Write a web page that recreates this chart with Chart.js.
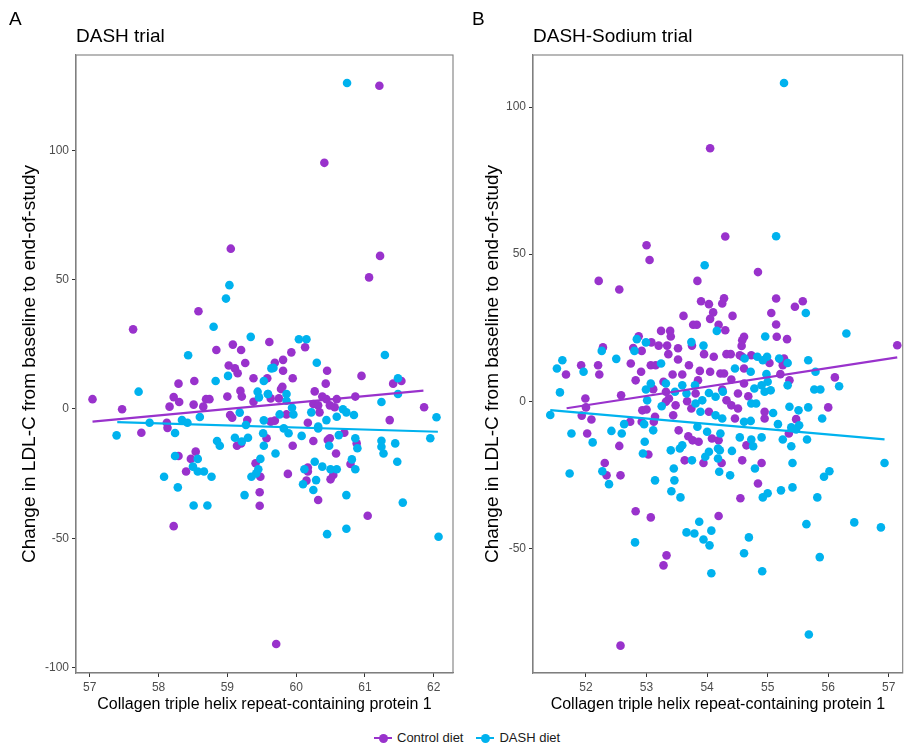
<!DOCTYPE html>
<html>
<head>
<meta charset="utf-8">
<title>LDL-C change vs CTHRC1</title>
<script src="https://cdn.jsdelivr.net/npm/chart.js@4.4.1/dist/chart.umd.min.js"></script>
<style>
  body { margin: 0; background: #fff; font-family: "Liberation Sans", Arial, Helvetica, sans-serif; }
  #page { position: relative; width: 907px; height: 745px; overflow: hidden; }
  canvas { position: absolute; top: 0; }
  #chartA { left: 0; }
  #chartB { left: 462px; }
  .tag { position: absolute; top: 8px; font-size: 19px; color: #000; line-height: 22px; }
  #legend { position: absolute; top: 730px; left: 373px; font-size: 13px; color: #1a1a1a; display: flex; align-items: center; line-height: 16px; }
  .key { position: relative; display: inline-block; width: 20px; height: 14px; margin-right: 4px; }
  .key::before { content: ""; position: absolute; left: 1px; right: 1px; top: 6px; height: 2px; background: var(--c); }
  .key::after { content: ""; position: absolute; left: 5.5px; top: 2.5px; width: 9px; height: 9px; border-radius: 50%; background: var(--c); }
  .item { display: flex; align-items: center; margin-right: 12px; }
</style>
</head>
<body>
<div id="page">
  <canvas id="chartA" width="462" height="720"></canvas>
  <canvas id="chartB" width="445" height="720"></canvas>
  <div class="tag" style="left:9px">A</div>
  <div class="tag" style="left:472px">B</div>
  <div id="legend">
    <span class="item"><span class="key" style="--c:#9932CC"></span>Control diet</span>
    <span class="item"><span class="key" style="--c:#00B2EE"></span>DASH diet</span>
  </div>
</div>

<script>
// ---- data ----
const seriesNames = ["Control diet", "DASH diet"];
const xTitle = "Collagen triple helix repeat-containing protein 1";
const yTitle = "Change in LDL-C from baseline to end-of-study";

// Panel A: DASH trial
const titleA = "DASH trial";
const xTicksA = [57, 58, 59, 60, 61, 62];
const yTicksA = [-100, -50, 0, 50, 100];
const controlA = [
  [57.04,3.8],[57.47,-0.1],[57.63,30.8],[58.58,37.8],[58.84,22.8],[59.08,24.9],[59.20,22.8],[59.61,25.9],
  [59.02,16.8],[59.11,15.7],[59.15,13.8],[59.26,17.8],[59.38,11.9],[58.52,10.8],[58.29,9.8],[58.22,4.6],
  [58.30,2.7],[58.16,0.9],[58.51,1.7],[58.65,0.9],[58.69,3.8],[58.74,3.8],[59.00,4.8],[59.19,7],
  [59.21,4.8],[59.38,2.8],[59.04,-2.3],[59.07,-3.4],[59.29,-4.3],[58.12,-5.3],[58.13,-7.3],[57.75,-9.2],
  [59.63,-4.9],[58.29,-18.2],[58.54,-16.5],[58.47,-19.3],[58.40,-24.2],[58.22,-45.3],[59.14,-14.2],[59.20,-13.3],
  [59.57,-11.3],[59.41,-21],[59.48,-26.2],[59.47,-32.2],[59.47,-37.4],[61.06,50.9],[59.05,62],[61.22,59.2],
  [60.41,95.2],[61.21,125],[59.71,-90.9],[59.93,21.9],[60.13,23.9],[59.69,17.9],[59.81,19],[59.81,14.8],
  [60.45,14.8],[59.95,11.9],[59.58,11.9],[60.43,9.8],[59.80,8.6],[59.78,7.7],[60.95,12.8],[61.41,9.8],
  [61.53,10.8],[60.27,6.8],[60.38,4.8],[60.44,3.8],[60.59,3.8],[60.86,4.8],[60.25,1.9],[60.32,1.4],
  [60.49,1.4],[60.56,0.7],[60.34,-1.3],[60.17,-5.3],[59.86,-2.1],[59.69,-4.5],[59.63,4.1],[59.75,4.1],
  [61.86,0.7],[61.36,-4.3],[60.25,-12.4],[59.95,-14.2],[60.46,-12],[60.49,-11.3],[60.58,-17.2],[60.70,-9.2],
  [60.88,-13.3],[60.79,-21.3],[60.17,-22.6],[60.17,-24.2],[60.15,-27.7],[59.88,-25.1],[60.50,-27.2],[60.54,-25.5],
  [60.32,-35.2],[61.04,-41.3]
];
const dashA = [
  [59.03,47.9],[58.98,42.7],[58.80,31.8],[59.34,27.9],[58.43,20.8],[57.71,6.7],[58.83,10.8],[59.01,12.8],
  [59.53,10.8],[59.44,6.7],[59.46,4.5],[59.59,5.8],[59.64,15.7],[58.60,-3.1],[59.18,-1.4],[59.53,-4.4],
  [57.87,-5.3],[58.34,-4.3],[58.42,-5.3],[59.27,-6.2],[57.39,-10.2],[58.24,-9.3],[58.85,-12.4],[58.89,-14.2],
  [59.11,-11.1],[59.21,-12.6],[59.30,-11.1],[59.52,-9.4],[59.53,-14.2],[58.24,-18.2],[58.57,-19.3],[58.50,-22.3],
  [58.57,-24.2],[58.66,-24.2],[58.77,-26.2],[58.08,-26.2],[58.28,-30.3],[58.51,-37.3],[58.71,-37.3],[59.48,-19.3],
  [59.45,-23.3],[59.42,-24.9],[59.35,-26.2],[59.25,-33.3],[60.04,27],[60.15,27],[60.30,17.9],[61.29,20.9],
  [59.67,15.9],[61.48,11.9],[61.48,5.8],[59.59,5.8],[59.86,5.8],[59.86,3.2],[59.94,0.5],[59.96,-2.1],
  [59.76,-2.1],[60.22,-1.3],[60.44,-4.3],[60.59,-3],[60.68,-0.1],[60.73,-1.3],[60.84,-2.3],[61.24,2.7],
  [62.04,-3.2],[60.32,-6.8],[59.70,-17.2],[59.82,-7.5],[59.89,-9.4],[60.08,-10.4],[60.32,-7.5],[60.48,-14.2],
  [60.62,-10.1],[60.86,-11.3],[60.89,-15.2],[60.81,-19.5],[60.86,-23.3],[61.24,-12.3],[61.24,-14.6],[61.27,-17.2],
  [61.44,-13.3],[61.47,-20.4],[61.95,-11.3],[60.27,-20.4],[60.12,-23.3],[60.38,-22.3],[60.50,-23.3],[60.59,-23.3],
  [60.29,-27.5],[60.10,-29.1],[60.25,-31.3],[60.73,-33.3],[61.55,-36.2],[60.45,-48.4],[60.73,-46.3],[62.07,-49.4],
  [60.74,126.1]
];
const fitControlA = [[57.04,-4.9],[61.85,7.1]];
const fitDashA = [[57.40,-5.1],[62.06,-8.8]];

// Panel B: DASH-Sodium trial
const titleB = "DASH-Sodium trial";
const xTicksB = [52, 53, 54, 55, 56, 57];
const yTicksB = [-50, 0, 50, 100];
const controlB = [
  [53.00,53],[53.05,48],[52.21,40.9],[52.55,38],[53.84,40.9],[53.90,34],[54.03,33],[54.10,30.2],
  [54.05,28],[54.25,33.2],[54.30,56],[53.61,29],[53.77,26],[53.83,26],[54.19,26],[53.24,23.9],
  [53.39,23.9],[53.40,22],[52.87,22.1],[53.08,20],[53.20,18.9],[53.34,18.9],[53.52,18],[52.28,18.3],
  [52.78,18.1],[52.92,17.1],[53.75,18.9],[53.36,16],[53.95,16],[54.11,15.1],[54.30,24.1],[54.84,43.9],
  [54.28,35],[55.14,34.9],[55.45,32.1],[55.58,34],[55.06,30],[54.42,29],[55.14,26.1],[55.15,21.9],
  [55.32,21.1],[54.61,21.9],[54.58,20.7],[54.57,18.8],[57.14,19],[54.32,16],[54.39,16],[54.58,15.1],
  [54.73,15.6],[55.27,14.5],[54.05,86],[52.57,-83.1],[51.92,12.2],[52.20,12.2],[51.67,9.1],[52.22,9.1],
  [52.74,12.8],[52.82,7.1],[52.91,10],[53.07,12.2],[53.15,12.2],[53.52,14.2],[53.70,12.2],[53.43,9.1],
  [53.28,6.6],[53.59,9.1],[53.88,10.3],[54.05,10],[54.22,9.4],[53.85,7.1],[53.11,4.1],[53.32,3.2],
  [52.58,2],[51.99,0.9],[52.00,-2.1],[51.93,-4.9],[52.09,-6.2],[52.93,-3.1],[53.00,-2.8],[53.14,-5.3],
  [53.44,-4.8],[53.48,-1.4],[53.37,0.9],[53.32,-0.2],[53.67,0],[53.74,-2.5],[53.81,2.6],[54.03,-3.6],
  [52.73,-7],[52.92,-7],[53.12,-7],[53.53,-9.9],[53.69,-11.9],[53.76,-13.3],[53.86,-13.8],[54.08,-12.7],
  [52.02,-11],[52.55,-15.2],[53.03,-18.1],[53.63,-20.1],[53.94,-21],[52.31,-21],[52.34,-25.2],[52.57,-25.2],
  [54.19,-13.3],[54.54,15.6],[55.03,13],[55.23,13.9],[55.25,12.2],[54.61,11.1],[54.28,9.4],[55.21,9.2],
  [55.36,7.1],[56.11,8.1],[54.40,7.4],[54.61,6],[54.25,4],[54.51,2.6],[54.68,1.7],[54.32,0.3],
  [54.40,-1.4],[54.51,-2.5],[54.95,-3.6],[54.95,-5.9],[54.46,-5.9],[55.47,-6.1],[56.00,-2.1],[55.35,-11],
  [54.65,-15],[54.58,-20.1],[54.90,-21],[54.24,-21],[52.82,-37.4],[53.07,-39.5],[53.33,-52.4],[53.28,-55.8],
  [54.19,-39],[54.55,-33],[54.84,-28]
];
const dashB = [
  [53.96,46.2],[52.84,21.1],[52.99,20],[52.26,17.1],[52.50,14.4],[52.80,17.1],[53.74,20.1],[53.94,18.9],
  [54.16,23.9],[51.61,13.9],[55.14,56.1],[55.63,30],[54.96,22],[56.30,23],[54.83,15.1],[54.99,15.1],
  [55.19,14.5],[55.67,13.9],[55.27,108.2],[55.68,-79.3],[51.52,11.1],[51.96,10],[53.24,12.8],[51.57,3],
  [51.41,-4.7],[51.76,-11],[52.11,-14],[52.42,-10.1],[52.59,-11],[52.63,-7.8],[52.99,4],[53.07,6],
  [53.01,0.3],[53.25,-1.7],[52.96,-7.8],[53.11,-9.9],[52.97,-13.8],[52.94,-17.8],[53.40,-16.7],[53.55,-16.1],
  [53.59,-15],[53.45,-22.9],[53.32,6],[53.47,3.2],[53.59,5.4],[53.66,2.6],[53.80,5.4],[53.92,0.3],
  [54.03,2.8],[54.14,1.5],[54.26,3.2],[53.81,-0.8],[53.89,-3.6],[54.14,-4.8],[54.25,-5.9],[53.84,-8.7],
  [54.00,-10.4],[54.22,-11],[54.03,-17.2],[54.18,-16.1],[54.18,-19.5],[53.97,-18.9],[54.20,-24],[53.75,-20.1],
  [51.73,-24.6],[54.46,11.1],[54.62,14.5],[54.92,13.9],[55.33,13],[55.79,10],[56.18,5.1],[55.77,4],
  [55.87,4],[54.72,10],[54.98,9.2],[55.00,6.6],[54.90,5.4],[54.78,4.3],[54.95,3.2],[55.05,3.7],
  [55.33,5.4],[54.73,-0.8],[54.81,-0.8],[55.36,-1.9],[55.51,-3.1],[55.67,-2.1],[55.09,-4],[55.90,-5.9],
  [54.61,-7],[54.72,-6.7],[55.17,-7.8],[55.39,-8.9],[55.52,-8.2],[55.47,-9.6],[54.54,-12.3],[54.73,-13],
  [54.90,-12.3],[55.25,-13],[55.65,-13],[54.76,-15.3],[55.39,-15.3],[54.41,-16.9],[54.79,-22.9],[55.41,-21],
  [56.02,-23.8],[55.93,-25.7],[56.93,-21],[54.38,-25.2],[54.21,-16.7],[53.87,-41],[54.07,-44],[53.94,-47],
  [53.79,-45],[54.04,-49],[54.07,-58.5],[53.66,-44.6],[54.69,-46.3],[54.61,-51.7],[54.91,-57.8],[54.92,-32.7],
  [55.00,-31.3],[55.22,-30.3],[55.41,-29.3],[55.64,-41.8],[55.82,-32.7],[55.86,-53],[56.43,-41.2],[56.87,-42.9],
  [52.81,-48],[52.38,-28.2],[52.27,-23.8],[53.41,-30.6],[53.56,-32.7],[53.46,-26.9],[53.14,-26.9]
];
const fitControlB = [[51.68,-2.4],[57.14,14.9]];
const fitDashB = [[51.41,-3.0],[56.93,-13.0]];

// ---- drawing ----
const PURPLE = "#9932CC";
const BLUE = "#00B2EE";
const FONT = '"Liberation Sans", Arial, Helvetica, sans-serif';

const toXY = pts => pts.map(([x, y]) => ({ x, y }));

// box round the panel, like ggplot's panel.border
const frame = {
  id: "frame",
  afterDraw(chart) {
    const { ctx, chartArea: a } = chart;
    ctx.save();
    ctx.strokeStyle = "#7f7f7f";
    ctx.lineWidth = 1.1;
    ctx.strokeRect(a.left, a.top, a.right - a.left, a.bottom - a.top);
    ctx.restore();
  }
};

function pointSet(label, pts, color, order) {
  return {
    label, data: toXY(pts), order,
    backgroundColor: color, borderColor: color, borderWidth: 0,
    pointRadius: 4.3, pointHoverRadius: 4.3
  };
}

function fitLine(pts, color) {
  return {
    type: "line", data: toXY(pts), order: 0,
    borderColor: color, borderWidth: 2.2, pointRadius: 0, fill: false, tension: 0
  };
}

function makePanel(id, p) {
  const axisTicks = vals => s => { s.ticks = vals.map(v => ({ value: v })); };
  return new Chart(document.getElementById(id), {
    type: "scatter",
    data: {
      datasets: [
        pointSet(seriesNames[0], p.control, PURPLE, 2),
        pointSet(seriesNames[1], p.dash, BLUE, 1),
        fitLine(p.fitControl, PURPLE),
        fitLine(p.fitDash, BLUE)
      ]
    },
    options: {
      responsive: false,
      animation: false,
      layout: { padding: { left: 0, right: p.padRight, top: 0, bottom: 0 } },
      plugins: {
        legend: { display: false },
        tooltip: { enabled: false },
        title: {
          display: true, text: p.title, align: "start", fullSize: false, color: "#000",
          font: { size: 19, family: FONT, weight: "normal" },
          padding: { top: 25.6, bottom: 6.6 }
        }
      },
      scales: {
        x: {
          type: "linear", min: p.xMin, max: p.xMax,
          afterBuildTicks: axisTicks(p.xTicks),
          afterFit: s => { s.height = 47; },
          grid: { drawOnChartArea: false, tickLength: 4, tickColor: "#333", tickWidth: 1 },
          border: { color: "#7f7f7f", width: 1.1 },
          ticks: { color: "#4d4d4d", font: { size: 12, family: FONT }, padding: 3, maxRotation: 0 },
          title: { display: true, text: xTitle, color: "#000", font: { size: 16, family: FONT }, padding: { top: 0, bottom: 5.4 } }
        },
        y: {
          type: "linear", min: p.yMin, max: p.yMax,
          afterBuildTicks: axisTicks(p.yTicks),
          afterFit: s => { s.width = p.yWidth; },
          grid: { drawOnChartArea: false, tickLength: 4, tickColor: "#333", tickWidth: 1 },
          border: { color: "#7f7f7f", width: 1.1 },
          ticks: { color: "#4d4d4d", font: { size: 12, family: FONT }, padding: 3 },
          title: { display: true, text: yTitle, color: "#000", font: { size: 19, family: FONT }, padding: { top: p.yTitlePad, bottom: 0 } }
        }
      }
    },
    plugins: [frame]
  });
}

makePanel("chartA", {
  title: titleA, control: controlA, dash: dashA, fitControl: fitControlA, fitDash: fitDashA,
  xTicks: xTicksA, yTicks: yTicksA, xMin: 56.8, xMax: 62.28, yMin: -102.1, yMax: 136.9,
  yWidth: 76, yTitlePad: 18.6, padRight: 9
});

makePanel("chartB", {
  title: titleB, control: controlB, dash: dashB, fitControl: fitControlB, fitDash: fitDashB,
  xTicks: xTicksB, yTicks: yTicksB, xMin: 51.125, xMax: 57.23, yMin: -92.4, yMax: 117.7,
  yWidth: 71, yTitlePad: 19.6, padRight: 2
});
</script>
</body>
</html>
